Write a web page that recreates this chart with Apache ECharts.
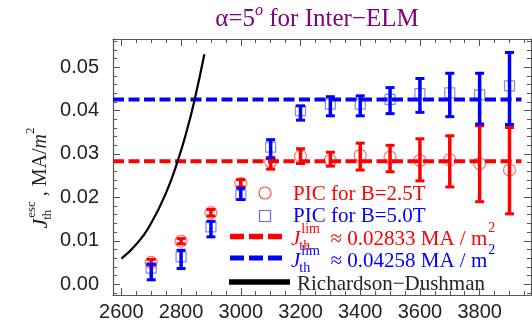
<!DOCTYPE html>
<html><head><meta charset="utf-8">
<script src="https://cdn.jsdelivr.net/npm/echarts@6/dist/echarts.min.js"></script>
<style>html,body{margin:0;padding:0;background:#fff}#c{width:532px;height:326px}</style>
</head><body><div id="c"></div>
<script>
// ---- data ----
const xValues  = [2700, 2800, 2900, 3000, 3100, 3200, 3300, 3400, 3500, 3600, 3700, 3800, 3900];
const redPIC   = [0.0050, 0.0099, 0.0165, 0.0232, 0.0282, 0.0295, 0.0285, 0.0297, 0.0293, 0.0285, 0.0287, 0.0278, 0.0263];
const redLow   = [0.0044, 0.0093, 0.0157, 0.0224, 0.0265, 0.0278, 0.0272, 0.0263, 0.0259, 0.0238, 0.0224, 0.0190, 0.0162];
const redHigh  = [0.0057, 0.0105, 0.0172, 0.0241, 0.0292, 0.0312, 0.0304, 0.0325, 0.0320, 0.0335, 0.0342, 0.0365, 0.0361];
const bluePIC  = [0.0037, 0.0063, 0.0132, 0.0205, 0.0316, 0.0400, 0.0415, 0.0415, 0.0426, 0.0439, 0.0441, 0.0436, 0.0457];
const blueLow  = [0.0010, 0.0036, 0.0109, 0.0195, 0.0289, 0.0378, 0.0388, 0.0388, 0.0393, 0.0396, 0.0386, 0.0369, 0.0368];
const blueHigh = [0.0046, 0.0078, 0.0145, 0.0221, 0.0333, 0.0411, 0.0432, 0.0434, 0.0453, 0.0474, 0.0486, 0.0486, 0.0534];
const rdX = [2600, 2650, 2700, 2750, 2787, 2820, 2844, 2878];
const rdY = [0.0059, 0.0092, 0.0141, 0.0211, 0.0280, 0.0356, 0.0421, 0.0530];
const limitRed = 0.02833, limitBlue = 0.04258;
const limitXRange = [2572, 3940];
const xTickLabels = [2600, 2800, 3000, 3200, 3400, 3600, 3800];
const yTickLabels = [0.00, 0.01, 0.02, 0.03, 0.04, 0.05];
const titleText = ['α=5', 'o', ' for Inter−ELM'];
const legendTexts = ['PIC for B=2.5T', 'PIC for B=5.0T', ' ≈ 0.02833 MA / m', ' ≈ 0.04258 MA / m', 'Richardson−Dushman'];

// ---- axes ----
const xMin = 2572, xMax = 3972, yMin = -0.0025, yMax = 0.0565;
const xMinor = []; for (let v = 2600; v <= 3950; v += 50) xMinor.push(v);
const yMinor = []; for (let k = -1; k <= 28; k++) yMinor.push(+(k * 0.002).toFixed(3));
const frame = '#555';
const RED = '#ff0000', BLUE = '#0000ff';
const TICKFONT = 20;

function xAx(pos, major, labels) {
  return {
    type: 'value', min: xMin, max: xMax, position: pos,
    axisLine: { show: major, onZero: false, lineStyle: { color: frame, width: 1.2 } },
    axisTick: { show: true, inside: true, length: major ? 7 : 4, customValues: major ? xTickLabels : xMinor, lineStyle: { color: frame, width: 1 } },
    axisLabel: labels ? { show: true, customValues: xTickLabels, margin: 7, fontSize: TICKFONT, fontFamily: 'Liberation Sans', color: '#222', formatter: v => String(Math.round(v)) } : { show: false },
    splitLine: { show: false }
  };
}
function yAx(pos, major, labels) {
  return {
    type: 'value', min: yMin, max: yMax, position: pos,
    axisLine: { show: major, onZero: false, lineStyle: { color: frame, width: 1.2 } },
    axisTick: { show: true, inside: true, length: major ? 7 : 4, customValues: major ? yTickLabels : yMinor, lineStyle: { color: frame, width: 1 } },
    axisLabel: labels ? { show: true, customValues: yTickLabels, margin: 14, fontSize: TICKFONT, fontFamily: 'Liberation Sans', color: '#222', formatter: v => v.toFixed(2) } : { show: false },
    splitLine: { show: false }
  };
}

function errSeries(name, lo, hi, color, z) {
  return {
    type: 'custom', name, z, silent: true,
    data: xValues.map((x, i) => [x, lo[i], hi[i]]),
    encode: { x: 0, y: [1, 2] },
    renderItem(params, api) {
      const p1 = api.coord([api.value(0), api.value(1)]);
      const p2 = api.coord([api.value(0), api.value(2)]);
      const hw = 4.5;
      return {
        type: 'group', children: [
          { type: 'line', shape: { x1: p1[0], y1: p1[1], x2: p2[0], y2: p2[1] }, style: { stroke: color, lineWidth: 3.5 } },
          { type: 'line', shape: { x1: p1[0] - hw, y1: p1[1], x2: p1[0] + hw, y2: p1[1] }, style: { stroke: color, lineWidth: 3 } },
          { type: 'line', shape: { x1: p2[0] - hw, y1: p2[1], x2: p2[0] + hw, y2: p2[1] }, style: { stroke: color, lineWidth: 3 } }
        ]
      };
    }
  };
}

// ---- text helpers for sub/superscripts ----
const mctx = document.createElement('canvas').getContext('2d');
const SERIF = '"Liberation Serif", "Times New Roman", serif';
function fnt(size, italic) { return (italic ? 'italic ' : '') + size + 'px ' + SERIF; }
function tw(t, f) { mctx.font = f; return mctx.measureText(t).width; }
function txt(t, x, y, f, color) {
  return { type: 'text', x, y, silent: true, style: { text: t, font: f, fill: color, align: 'left', verticalAlign: 'middle' } };
}
function layout(pieces, x0, y0, color) {
  let x = x0; const out = [];
  for (const p of pieces) {
    if (p.stack) {
      let w = 0;
      for (const q of p.stack) {
        const f = fnt(q.size, q.italic);
        out.push(txt(q.t, x + (q.dx || 0), y0 + q.dy, f, color));
        w = Math.max(w, tw(q.t, f) + (q.dx || 0));
      }
      x += w;
    } else {
      const f = fnt(p.size, p.italic);
      out.push(txt(p.t, x + (p.dx || 0), y0 + (p.dy || 0), f, color));
      x += tw(p.t, f) + (p.dx || 0);
    }
  }
  return { children: out, width: x - x0 };
}
function measure(pieces) { return layout(pieces, 0, 0, '#000').width; }

// title
const titlePieces = [
  { t: titleText[0], size: 25 },
  { t: titleText[1], size: 16, italic: true, dy: -8 },
  { t: titleText[2], size: 25 }
];
const tW = measure(titlePieces);
const titleG = { type: 'group', children: layout(titlePieces, 317 - tW / 2, 19, '#800080').children };

// y-axis name (rotated)
const yPieces = [
  { t: 'J', size: 22, italic: true },
  { stack: [{ t: 'esc', size: 13, dy: -9, dx: 1 }, { t: 'th', size: 13, dy: 7, dx: -1 }] },
  { t: ' , MA/', size: 20 },
  { t: 'm', size: 20, italic: true },
  { t: '2', size: 13, dy: -10 }
];
const yW = measure(yPieces);
const yNameG = { type: 'group', x: 41, y: 178, rotation: Math.PI / 2, children: layout(yPieces, -yW / 2, 0, '#222').children };

// legend
const LS = 21;
function jPieces(rest) {
  return [
    { t: 'J', size: LS, italic: true },
    { stack: [{ t: 'lim', size: 14, dy: -10, dx: 1 }, { t: 'th', size: 14, dy: 7, dx: -1 }] },
    { t: ' ' + rest, size: LS },
    { t: '2', size: 14, dy: -11, dx: 1 }
  ];
}
const legendChildren = [
  { type: 'circle', shape: { cx: 265, cy: 193, r: 6 }, style: { fill: 'none', stroke: 'rgba(255,40,40,0.8)', lineWidth: 1.2 } },
  txt(legendTexts[0], 293, 194, fnt(LS), RED),
  { type: 'rect', shape: { x: 259.5, y: 210.5, width: 11, height: 11 }, style: { fill: 'none', stroke: 'rgba(40,40,255,0.7)', lineWidth: 1.2 } },
  txt(legendTexts[1], 293, 216.5, fnt(LS), BLUE),
  { type: 'line', shape: { x1: 230, y1: 236.5, x2: 282, y2: 236.5 }, style: { stroke: RED, lineWidth: 5.5, lineDash: [14, 5] } },
  ...layout(jPieces(legendTexts[2]), 291, 239.5, RED).children,
  { type: 'line', shape: { x1: 230, y1: 258, x2: 282, y2: 258 }, style: { stroke: BLUE, lineWidth: 5, lineDash: [14, 5] } },
  ...layout(jPieces(legendTexts[3]), 291, 261.5, BLUE).children,
  { type: 'line', shape: { x1: 229, y1: 282, x2: 290, y2: 282 }, style: { stroke: '#000', lineWidth: 5.5 } },
  txt(legendTexts[4], 297, 284, fnt(LS), '#222')
];

const chart = echarts.init(document.getElementById('c'), null, { renderer: 'canvas' });
chart.setOption({
  animation: false,
  backgroundColor: '#fff',
  grid: { left: 113, right: 1, top: 39, bottom: 31, containLabel: false },
  xAxis: [xAx('bottom', true, true), xAx('bottom', false, false), xAx('top', true, false), xAx('top', false, false)],
  yAxis: [yAx('left', true, true), yAx('left', false, false), yAx('right', true, false), yAx('right', false, false)],
  series: [
    { type: 'scatter', name: 'PIC for B=2.5T', z: 2, silent: true, data: xValues.map((x, i) => [x, redPIC[i]]), symbol: 'circle', symbolSize: 12,
      itemStyle: { color: 'rgba(255,255,255,0)', borderColor: 'rgba(255,40,40,0.8)', borderWidth: 1.2 } },
    errSeries('red err', redLow, redHigh, RED, 3),
    { type: 'scatter', name: 'PIC for B=5.0T', z: 4, silent: true, data: xValues.map((x, i) => [x, bluePIC[i]]), symbol: 'rect', symbolSize: 10,
      itemStyle: { color: 'rgba(255,255,255,0)', borderColor: 'rgba(40,40,255,0.7)', borderWidth: 1.2 } },
    errSeries('blue err', blueLow, blueHigh, BLUE, 5),
    { type: 'line', name: 'J lim red', z: 6, silent: true, symbol: 'none', data: limitXRange.map(x => [x, limitRed]), lineStyle: { color: RED, width: 4, type: [11, 4.5] } },
    { type: 'line', name: 'J lim blue', z: 6, silent: true, symbol: 'none', data: limitXRange.map(x => [x, limitBlue]), lineStyle: { color: BLUE, width: 4, type: [11, 4.5] } },
    { type: 'line', name: 'Richardson−Dushman', z: 7, silent: true, symbol: 'none', smooth: true, data: rdX.map((x, i) => [x, rdY[i]]), lineStyle: { color: '#000', width: 2.2 } }
  ],
  graphic: [titleG, yNameG, { type: 'group', children: legendChildren }]
});
</script></body></html>
